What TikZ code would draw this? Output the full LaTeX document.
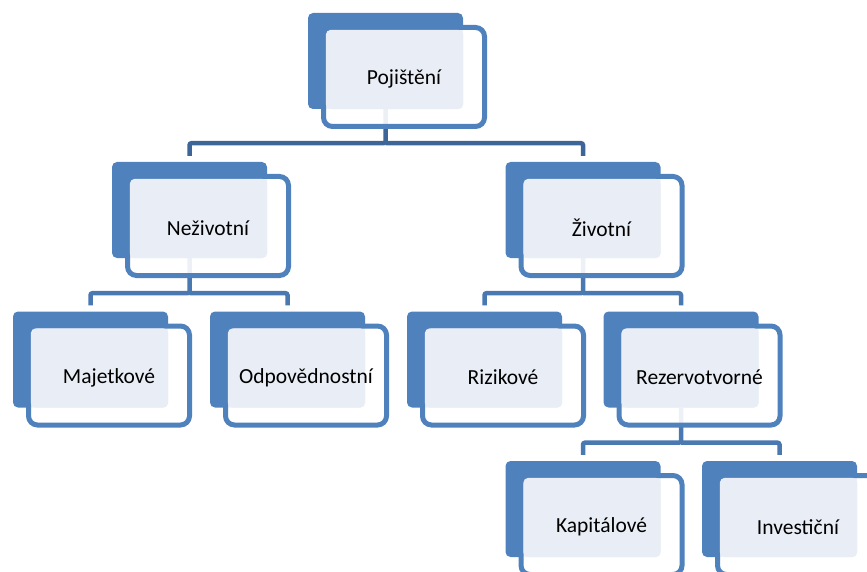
\documentclass[tikz,border=0pt]{standalone}
\usepackage{fontspec}
\setmainfont{Carlito}
\usepackage{xcolor}
\usepackage{tikz}
\usetikzlibrary{positioning}
\usetikzlibrary{backgrounds}

\definecolor{accent}{HTML}{4F81BD}
\definecolor{paleblue}{HTML}{E9EEF6}
\definecolor{linkdark}{HTML}{3E6597}
\definecolor{linkblue}{HTML}{4A78B1}

\tikzset{
  back/.style={fill=accent, rounded corners=5pt, minimum width=155pt, minimum height=96pt, inner sep=0pt},
  frame/.style={draw=accent, line width=5pt, fill=white, fill opacity=0.9, rounded corners=9pt,
    minimum width=161pt, minimum height=99pt, inner sep=0pt},
  txt/.style={font=\fontsize{21.5}{25}\selectfont, text=black, inner sep=0pt},
  conn/.style={draw=linkblue, line width=4.5pt, rounded corners=2pt},
}

% one box: name, x, y, text
\newcommand{\insbox}[4]{%
  \node[back] (#1) at (#2,#3) {};
  \node[frame] (#1-f) at ([xshift=18.5pt,yshift=-16pt]#1.center) {};
  \fill[paleblue, rounded corners=5pt] ([xshift=18pt,yshift=-17pt]#1.north west) rectangle (#1.south east);
  \node[txt] (#1-t) at ([yshift=-2pt]#1-f.center) {#4};
}

\begin{document}
\begin{tikzpicture}[x=1pt, y=-1pt]
   \useasboundingbox (0,0) rectangle (867,572);
   \clip (0,0) rectangle (867,572);

   \insbox{poj}{385.5}{61}{Pojištění}
   \insbox{nez}{189.5}{210}{Neživotní}
   \insbox{ziv}{583}{210}{Životní}
   \insbox{maj}{90.5}{359.5}{Majetkové}
   \insbox{odp}{287.5}{359.5}{Odpovědnostní}
   \insbox{riz}{484.5}{359.5}{Rizikové}
   \insbox{rez}{681}{359.5}{Rezervotvorné}
   \insbox{kap}{583}{509}{Kapitálové}
   \insbox{inv}{779.5}{509}{Investiční}

   \begin{pgfonlayer}{background}
     \draw[conn, draw=linkdark] (poj.south) -- ++(0,34) coordinate (poj-bus) -| ([yshift=6pt]nez.north);
     \draw[conn, draw=linkdark] (poj-bus) -| ([yshift=6pt]ziv.north);
     \draw[conn] (nez.south) -- ++(0,35) coordinate (nez-bus) -| ([yshift=6pt]maj.north);
     \draw[conn] (nez-bus) -| ([yshift=6pt]odp.north);
     \draw[conn] (ziv.south) -- ++(0,35) coordinate (ziv-bus) -| ([yshift=6pt]riz.north);
     \draw[conn] (ziv-bus) -| ([yshift=6pt]rez.north);
     \draw[conn] (rez.south) -- ++(0,35) coordinate (rez-bus) -| ([yshift=6pt]kap.north);
     \draw[conn] (rez-bus) -| ([yshift=6pt]inv.north);
   \end{pgfonlayer}
\end{tikzpicture}
\end{document}
